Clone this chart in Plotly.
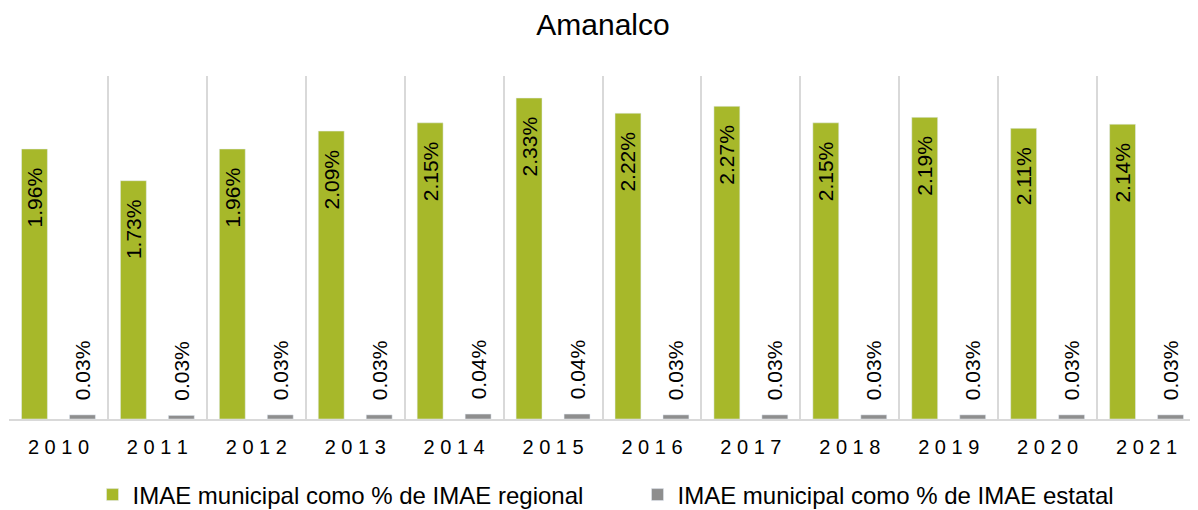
import plotly.graph_objects as go

# data
years = ['2010', '2011', '2012', '2013', '2014', '2015',
         '2016', '2017', '2018', '2019', '2020', '2021']
regional = [1.96, 1.73, 1.96, 2.09, 2.15, 2.33, 2.22, 2.27, 2.15, 2.19, 2.11, 2.14]
estatal = [0.030, 0.026, 0.030, 0.030, 0.036, 0.036, 0.030, 0.030, 0.030, 0.030, 0.030, 0.030]
year_labels = [' '.join(y) for y in years]  # spaced-out tick labels as in the original

FONT = 'Liberation Sans, Arial, sans-serif'
NB = '\u00a0'

# the page body has an 8px margin, so the figure is 8px smaller than the window
W, H = 1190, 502

fig = go.Figure()
fig.add_trace(go.Bar(
    x=years, y=regional,
    name='IMAE municipal como % de IMAE regional',
    marker_color='#A7B82A',
    texttemplate='%{y:.2f}%' + NB * 2 + '\u202f',
    textposition='inside',
    insidetextanchor='end',
    textangle=-90,
    textfont=dict(family=FONT, size=21, color='black'),
    constraintext='none',
))
fig.add_trace(go.Bar(
    x=years, y=estatal,
    name='IMAE municipal como % de IMAE estatal',
    marker_color='#8E8E8E',
    texttemplate=NB * 2 + '%{y:.2f}%',
    textposition='outside',
    textangle=-90,
    textfont=dict(family=FONT, size=21, color='black'),
    constraintext='none',
    cliponaxis=False,
))

fig.update_layout(
    width=W, height=H,
    margin=dict(l=1, r=2, t=68, b=91, autoexpand=False),
    paper_bgcolor='white', plot_bgcolor='white',
    font=dict(family=FONT, color='black'),
    barmode='group', bargap=0.03, bargroupgap=0.46,
    uniformtext=dict(minsize=21, mode='show'),
    title=dict(text='Amanalco', x=0.5, xanchor='center',
               y=1 - 16 / H, yanchor='middle',
               font=dict(family=FONT, size=30, color='black')),
    legend=dict(orientation='h', x=0.5 + 35 / 1187, xanchor='center',
                yref='container', y=(H - 487) / H, yanchor='middle',
                font=dict(family=FONT, size=24, color='black'),
                entrywidth=500),
    showlegend=True,
)
fig.update_xaxes(
    type='category', tickmode='array', tickvals=years, ticktext=year_labels,
    tickson='boundaries', ticks='', showgrid=True, gridcolor='#D9D9D9', gridwidth=1.5,
    showline=True, linecolor='#D9D9D9', linewidth=1.5,
    tickfont=dict(family=FONT, size=20, color='black'),
    ticklabelstandoff=9,
)
fig.update_yaxes(range=[0, 2.49], visible=False, showgrid=False, zeroline=False)

fig.write_html('out.html')
